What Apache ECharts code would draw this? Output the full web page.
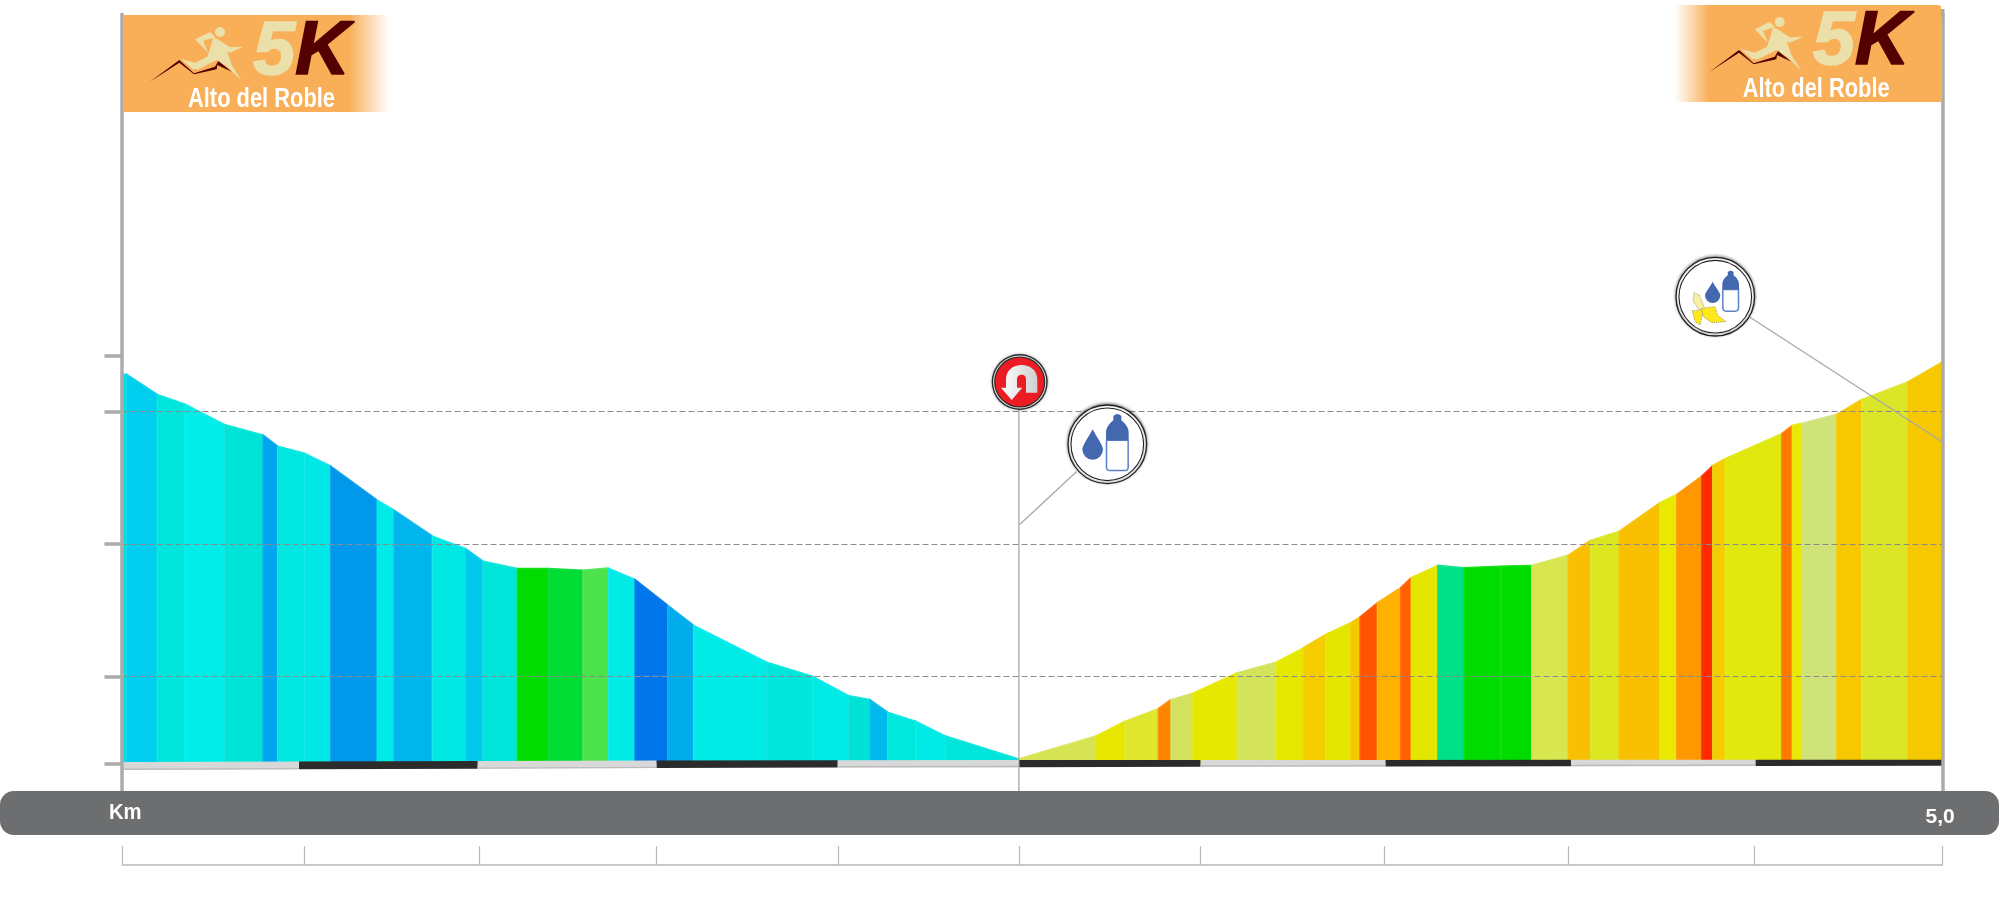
<!DOCTYPE html>
<html>
<head>
<meta charset="utf-8">
<style>html,body{margin:0;padding:0;background:#fff}#c{width:1999px;height:904px}</style>
<script src="https://cdn.jsdelivr.net/npm/echarts@6/dist/echarts.min.js"></script>
</head>
<body>
<div id="c"></div>
<script>
// ---- data (distance in metres, elevation in metres) ----
const distanceBreaks = [0,14.3,98.3,175.2,282.3,388.5,428.9,503,574.4,702.3,748.2,853.4,945.1,992.6,1086.8,1173,1267.1,1336.6,1409.9,1499.7,1571.1,1771.5,1896.7,1995.6,2055.1,2103.7,2180.6,2263,2463.4,
  2675.7,2755.3,2846.7,2881.6,2940,3063.6,3169.9,3244.8,3306.4,3375,3400.6,3448.1,3512.3,3541.4,3613.9,3686.1,3786.9,3872,3971.7,4034,4112.6,4224.4,4270.2,4338.8,4369.1,4403.6,4558.4,4587.5,4613.3,4709.4,4778,4904.3,5000];
const elevations = [1514.1,1514.1,1506.5,1502.8,1495.2,1491.2,1487,1484.3,1479.5,1466.6,1462.9,1453.1,1448.3,1443.6,1440.8,1440.8,1440.2,1441,1436.7,1427,1419.4,1405.5,1400.2,1392.9,1391.4,1386.6,1383.2,1377.6,1369,
  1377.6,1383.2,1387.9,1391.4,1393.7,1401.5,1405.5,1410.9,1416,1420.4,1422.6,1427.9,1433.6,1437.4,1442,1441.1,1441.7,1442,1445.8,1451.5,1454.9,1465.7,1468.8,1475.7,1479.7,1482.3,1491.7,1494.8,1495.6,1499,1504.6,1511.2,1518.8];
const segmentColors = ['#00E0DC','#00CEEE','#00E6DC','#00EDE8','#00E4D8','#00A6EE','#00E6E0','#00E8E6','#0098EA','#00EAE8','#00B4EC','#00E8E4','#00C8EC','#00E4DA','#00DC00','#00DC34','#4CE24C','#00EAE6','#0076EA','#00ACEA','#00EAE6','#00E6DC','#00EAE6','#00E2D8','#00BAEC','#00E8DE','#00EAE6','#00E4DC',
  '#D6E454','#E6E600','#DEE62E','#FF8400','#D2E260','#E6E800','#D3E35C','#E6E800','#F5CC00','#E4E600','#F5C800','#FF5500','#FFB000','#FF6000','#E4E600','#00E088','#00DC00','#00DC00','#D8E650','#F8C000','#DCE620','#F8C000','#E8E800','#FF9800','#FF2A00','#F5CC00','#E0E80E','#FF7800','#E8E800','#D0E27A','#F5C800','#DCE628','#F5C800'];
const roadBreaks = [0,487.4,978,1469.5,1966.5,2464.3,2963.1,3471,3979.9,4487,5000];
const roadTop = [1367.8,1368,1368.2,1368.3,1368.4,1368.5,1368.5,1368.5,1368.6,1368.6,1368.6];
const roadBottom = [1364.8,1365,1365.2,1365.5,1365.7,1365.8,1366,1366.1,1366.2,1366.3,1366.4];
const kmTicks = [0,501,980.5,1468,1967,2464,2961,3467,3972,4483,5000];
const elevationTicks = [1367.3,1400,1450,1500,1521];
const dashedLevels = [1400,1450,1500];
const turnLine = [[2464,1356.72],[2464,1500.9]];
const waterLeader = [[2467,1457.5],[2622.7,1477.4]];
const foodLeader = [[4471.5,1535.6],[5000,1488.5]];
const categoryLabels = ['Km','5,0'];
const eventName = 'Alto del Roble';

const FILL_BASE = 1367;
const GREY = '#ABABAB';

function renderSegment(params, api){
  const a = api.coord([api.value(0), api.value(2)]);
  const b = api.coord([api.value(1), api.value(3)]);
  const b0 = api.coord([api.value(1), FILL_BASE]);
  const a0 = api.coord([api.value(0), FILL_BASE]);
  const col = segmentColors[params.dataIndex];
  const edge = echarts.color.lift(col, 0.09);
  return {type:'group', children:[
    {type:'polygon', shape:{points:[a,b,b0,a0]}, style:{fill:col}},
    {type:'polyline', shape:{points:[a0,a,b]}, style:{fill:null, stroke:edge, lineWidth:1.3}}
  ]};
}
function renderRoad(params, api){
  const i = params.dataIndex;
  const p = [api.coord([roadBreaks[i],roadTop[i]]),api.coord([roadBreaks[i+1],roadTop[i+1]]),
             api.coord([roadBreaks[i+1],roadBottom[i+1]]),api.coord([roadBreaks[i],roadBottom[i]])];
  const dark = i%2===1;
  const children = [{type:'polygon',shape:{points:p},style:{fill:dark?'#2B2B2B':'#D8D8D8'}}];
  if(!dark) children.push({type:'line',shape:{x1:p[3][0],y1:p[3][1]-0.7,x2:p[2][0],y2:p[2][1]-0.7},style:{stroke:'#BCBCBC',lineWidth:1.4}});
  return {type:'group',children};
}

// ---- decorative graphics ----
let pathCount = 0;
function pathEl(d, style){
  const name = 'iconPath'+(pathCount++);
  echarts.graphic.registerShape(name, echarts.graphic.extendPath(d, {}));
  return {type:name, shape:{}, style};
}
function setZ(el,z){el.z=z;if(el.children)el.children.forEach(c=>setZ(c,z));return el;}
function poly(points,fill,extra){return Object.assign({type:'polygon',shape:{points},style:Object.assign({fill},extra||{})});}
function logo(rx,ry,dx,dy,textShift,stops){
  const C1='#EBE0A9',C2='#520000';
  return {type:'group',children:[
    {type:'rect',shape:{x:rx,y:ry,width:266,height:97,r:dx?[0,3,0,0]:0},
     style:{fill:new echarts.graphic.LinearGradient(0,0,1,0,stops)}},
    {type:'group',x:120+dx,y:10+dy,scaleX:1/3,scaleY:1/3,children:[
      {type:'circle',shape:{cx:300,cy:66,r:15},style:{fill:C1}},
      poly([[225,88],[270,66],[286,82],[250,92],[264,128]],C1),
      poly([[288,84],[330,112],[370,110],[330,128],[318,122],[290,100]],C1),
      poly([[280,80],[300,95],[322,125],[335,165],[365,212],[322,170],[290,150],[235,178],[218,178],[183,147],[225,158],[262,140],[272,110]],C1),
      poly([[90,215],[178,150],[222,190],[285,170],[295,153],[335,185],[292,165],[290,178],[222,193],[178,158]],C2)
    ]},
    {type:'text',x:253+dx,y:15+dy,style:{text:'5',fill:C1,stroke:C1,lineWidth:1.5,font:'italic bold 76px "Liberation Sans"',align:'left',verticalAlign:'top'}},
    {type:'text',x:295+dx,y:15+dy,style:{text:'K',fill:C2,stroke:C2,lineWidth:1.5,font:'italic bold 76px "Liberation Sans"',align:'left',verticalAlign:'top'}},
    {type:'group',x:188+dx+textShift,y:86+dy,scaleX:0.81,children:[
      {type:'text',x:0,y:0,style:{text:eventName,fill:'#fff',font:'bold 27px "Liberation Sans"',align:'left',verticalAlign:'top'}}]}
  ]};
}
function rings(cx,cy,r){return [
  {type:'circle',shape:{cx,cy,r},style:{fill:'#fff',stroke:'#222',lineWidth:1.3,shadowBlur:3,shadowColor:'rgba(0,0,0,.45)',shadowOffsetY:-1}},
  {type:'circle',shape:{cx,cy,r:r-3},style:{fill:'#fff',stroke:'#222',lineWidth:1.1}}];}
const BLUE='#4368B0';
function dropBottle(ox,oy,k,dropX,dropTop,dropCy,dropR,bx,bTop,bW,bH){
  const capW=bW*0.35, capH=bH*0.11;
  const midY=bTop+bH*0.46;
  const d = 'M'+dropX+' '+dropTop+' C'+(dropX+dropR*0.4)+' '+(dropTop+dropR*0.75)+' '+(dropX+dropR)+' '+(dropCy-dropR*0.35)+' '+(dropX+dropR)+' '+dropCy+
    ' A'+dropR+' '+dropR+' 0 1 1 '+(dropX-dropR)+' '+dropCy+' C'+(dropX-dropR)+' '+(dropCy-dropR*0.35)+' '+(dropX-dropR*0.4)+' '+(dropTop+dropR*0.75)+' '+dropX+' '+dropTop+' Z';
  const cx=bx+bW/2, shT=bTop+capH;
  const top='M'+(cx-capW/2)+' '+shT+' V'+(bTop+capH*0.3)+' Q'+cx+' '+(bTop-capH*0.3)+' '+(cx+capW/2)+' '+(bTop+capH*0.3)+' V'+shT+
    ' C'+(bx+bW*0.85)+' '+(shT+bH*0.06)+' '+(bx+bW)+' '+(shT+bH*0.12)+' '+(bx+bW)+' '+(shT+bH*0.22)+' V'+midY+' H'+bx+' V'+(shT+bH*0.22)+
    ' C'+bx+' '+(shT+bH*0.12)+' '+(bx+bW*0.15)+' '+(shT+bH*0.06)+' '+(cx-capW/2)+' '+shT+' Z';
  return {type:'group',x:ox,y:oy,scaleX:k,scaleY:k,children:[
    pathEl(d,{fill:BLUE}),
    {type:'rect',shape:{x:bx+1.5,y:midY,width:bW-3,height:bTop+bH-midY-1.5,r:[0,0,10,10]},style:{fill:'#fff',stroke:'#5B80C8',lineWidth:4.5}},
    pathEl(top,{fill:BLUE})
  ]};
}
const graphics = [
  // bottom band
  {type:'rect',shape:{x:0,y:791,width:1999,height:44,r:14},style:{fill:'#6D6E70'}},
  {type:'group',x:109,y:802,scaleX:0.92,children:[{type:'text',x:0,y:0,style:{text:categoryLabels[0],fill:'#fff',font:'bold 22px "Liberation Sans"',align:'left',verticalAlign:'top'}}]},
  {type:'text',x:1925.5,y:807,style:{text:categoryLabels[1],fill:'#fff',font:'bold 21px "Liberation Sans"',align:'left',verticalAlign:'top'}},
  // top of right axis, above the grid
  {type:'rect',shape:{x:1941,y:9,width:3.5,height:8},style:{fill:GREY}},
  // logos
  logo(123,15,0,0,0,[{offset:0,color:'#F9AE58'},{offset:0.85,color:'#F9AE58'},{offset:1,color:'rgba(249,174,88,0)'}]),
  logo(1675,5,1559.7,-10,-5,[{offset:0,color:'rgba(249,174,88,0)'},{offset:0.13,color:'#F9AE58'},{offset:1,color:'#F9AE58'}]),
  // U-turn pin
  {type:'group',children:[
    {type:'circle',shape:{cx:1019.7,cy:382,r:28},style:{fill:'#2A2A2A',shadowBlur:3,shadowColor:'rgba(0,0,0,.4)'}},
    {type:'circle',shape:{cx:1019.7,cy:382,r:26.6},style:{fill:'#E8E8E8'}},
    {type:'circle',shape:{cx:1019.7,cy:382,r:25.6},style:{fill:'#2A2A2A'}},
    {type:'circle',shape:{cx:1019.7,cy:382,r:24.4},style:{fill:'#ED1C24'}},
    {type:'group',x:950,y:340,scaleX:1/3,scaleY:1/3,children:[
      pathEl('M168 143 V118 C168 90 190 75 215 75 C240 75 262 90 262 118 V158 H228 V118 C228 108 222 104 215 104 C208 104 201 108 201 118 V143 H217 L185 180 L153 143 Z',
       {fill:new echarts.graphic.LinearGradient(0,0,1,0,[{offset:0,color:'#fff'},{offset:1,color:'#CFCFCF'}])})
    ]}
  ]},
  // water point
  {type:'group',children:rings(1107.3,444.3,39.3).concat([
    dropBottle(950,340,1/3,428,268,328,31,468,222,68,171)
  ])},
  // water + banana point
  {type:'group',children:rings(1715.3,296.7,39.3).concat([
    dropBottle(1600,0,1/3,338,845,886,23,367,812,50,123),
    {type:'group',x:1600,y:0,scaleX:1/3,scaleY:1/3,children:[
      poly([[282,878],[298,885],[318,935],[296,928],[280,905]],'#F6F0A0',{stroke:'#444',lineWidth:1.5,lineDash:[3,3]}),
      poly([[277,932],[310,930],[300,975],[285,965]],'#FFE81A',{stroke:'#444',lineWidth:1.5,lineDash:[3,3]}),
      poly([[305,925],[345,920],[352,945],[378,965],[335,968],[310,950]],'#FFE81A',{stroke:'#444',lineWidth:1.5,lineDash:[3,3]})
    ]}
  ])}
].map(g=>setZ(g,60));

const option = {
  animation:false,
  backgroundColor:'#fff',
  grid:[
    {left:121.5,width:1821,top:14.3,height:777,containLabel:false},
    {left:122.3,width:1820,top:846,height:19,containLabel:false}
  ],
  xAxis:[
    {type:'value',gridIndex:0,min:0,max:5000,axisLine:{show:false},axisTick:{show:false},axisLabel:{show:false},splitLine:{show:false}},
    {type:'value',gridIndex:1,min:0,max:5000,
     axisLine:{show:true,onZero:false,lineStyle:{color:'#B9B9B9',width:1.5}},
     axisTick:{show:true,inside:true,length:19,customValues:kmTicks,lineStyle:{color:'#B9B9B9',width:1.2}},
     axisLabel:{show:false},splitLine:{show:false}}
  ],
  yAxis:[
    {type:'value',gridIndex:0,min:1356.72,max:1649.92,position:'left',z:10,
     axisLine:{show:true,onZero:false,lineStyle:{color:GREY,width:3.5}},
     axisTick:{show:true,length:17,customValues:elevationTicks,lineStyle:{color:GREY,width:3.5}},
     axisLabel:{show:false},splitLine:{show:false}},
    {type:'value',gridIndex:0,min:1356.72,max:1649.92,position:'right',z:10,
     axisLine:{show:true,onZero:false,lineStyle:{color:GREY,width:3.5}},
     axisTick:{show:false},axisLabel:{show:false},splitLine:{show:false}},
    {type:'value',gridIndex:1,min:0,max:1,show:false}
  ],
  series:[
    {type:'custom',name:'profile',xAxisIndex:0,yAxisIndex:0,z:2,silent:true,clip:false,
     renderItem:renderSegment,encode:{x:[0,1],y:[2,3]},
     data:segmentColors.map((c,i)=>[distanceBreaks[i],distanceBreaks[i+1],elevations[i],elevations[i+1]])},
    {type:'custom',name:'road',xAxisIndex:0,yAxisIndex:0,z:3,silent:true,clip:false,
     renderItem:renderRoad,encode:{x:[0,1],y:[2,3]},
     data:roadBreaks.slice(0,-1).map((d,i)=>[d,roadBreaks[i+1],roadTop[i],roadBottom[i]])},
    {type:'line',name:'levels',xAxisIndex:0,yAxisIndex:0,z:4,silent:true,data:[],
     markLine:{silent:true,symbol:'none',animation:false,label:{show:false},
       lineStyle:{color:'#8A8A8A',width:1,type:[6,3]},data:dashedLevels.map(v=>({yAxis:v}))}},
    {type:'line',name:'turn',xAxisIndex:0,yAxisIndex:0,z:5,silent:true,symbol:'none',data:turnLine,lineStyle:{color:'#A8A8A8',width:1.3}},
    {type:'line',name:'water leader',xAxisIndex:0,yAxisIndex:0,z:5,silent:true,symbol:'none',data:waterLeader,lineStyle:{color:'#A8A8A8',width:1.3}},
    {type:'line',name:'food leader',xAxisIndex:0,yAxisIndex:0,z:5,silent:true,symbol:'none',data:foodLeader,lineStyle:{color:'#A8A8A8',width:1.3}}
  ],
  graphic:{elements:graphics}
};
const chart = echarts.init(document.getElementById('c'),null,{renderer:'canvas'});
chart.setOption(option);
</script>
</body>
</html>
